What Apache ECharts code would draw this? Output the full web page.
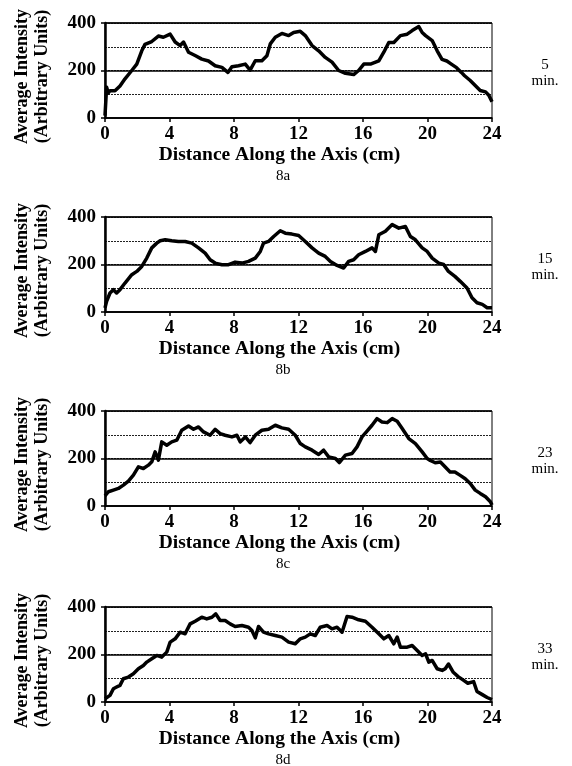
<!DOCTYPE html>
<html>
<head>
<meta charset="utf-8">
<script src="https://cdn.jsdelivr.net/npm/echarts@6/dist/echarts.min.js"></script>
<style>
html,body{margin:0;padding:0;background:#fff;}
#main{width:572px;height:766px;}
</style>
</head>
<body>
<div id="main"></div>
<script>
// 8a - 5 min
var distA = [0, 0.1, 0.2, 0.31, 0.62, 0.93, 1.24, 1.66, 1.97, 2.28, 2.48, 2.9, 3.31, 3.62, 4.04, 4.35, 4.66, 4.87, 5.18, 5.59, 6.0, 6.42, 6.83, 7.25, 7.62, 7.87, 8.28, 8.7, 9.0, 9.32, 9.73, 10.04, 10.25, 10.56, 10.97, 11.39, 11.7, 12.11, 12.42, 12.84, 13.25, 13.66, 14.08, 14.49, 14.91, 15.42, 15.73, 16.05, 16.46, 16.98, 17.29, 17.6, 17.91, 18.32, 18.74, 19.05, 19.46, 19.67, 19.88, 20.29, 20.6, 20.9, 21.2, 21.5, 21.8, 22.1, 22.3, 22.65, 22.96, 23.27, 23.6, 23.8, 24.0];
var intA = [10, 130, 105, 115, 115, 135, 165, 200, 227, 283, 310, 322, 345, 340, 353, 320, 305, 320, 277, 263, 248, 240, 220, 213, 192, 216, 220, 227, 202, 241, 241, 262, 312, 340, 356, 347, 360, 365, 347, 305, 283, 255, 235, 200, 188, 183, 200, 227, 227, 241, 277, 318, 318, 347, 353, 368, 385, 360, 347, 326, 283, 247, 240, 226, 212, 192, 178, 158, 137, 116, 110, 96, 68];

// 8b - 15 min
var distB = [0, 0.1, 0.31, 0.52, 0.72, 0.93, 1.24, 1.66, 1.97, 2.28, 2.59, 2.9, 3.21, 3.42, 3.73, 4.14, 4.55, 4.97, 5.38, 5.8, 6.21, 6.52, 6.83, 7.25, 7.66, 8.07, 8.49, 8.9, 9.32, 9.63, 9.83, 10.14, 10.46, 10.87, 11.18, 11.59, 12.01, 12.42, 12.84, 13.25, 13.66, 13.98, 14.39, 14.8, 15.11, 15.42, 15.73, 16.15, 16.56, 16.77, 16.98, 17.39, 17.81, 18.22, 18.63, 18.94, 19.25, 19.67, 19.98, 20.29, 20.7, 21.0, 21.3, 21.7, 22.03, 22.45, 22.76, 23.07, 23.4, 23.7, 24.0];
var intB = [17, 45, 80, 94, 80, 94, 122, 157, 171, 192, 227, 270, 290, 300, 304, 300, 297, 297, 290, 270, 248, 220, 206, 199, 199, 210, 206, 213, 227, 255, 290, 297, 318, 342, 332, 328, 322, 297, 270, 248, 234, 213, 196, 185, 213, 220, 241, 255, 270, 255, 325, 340, 368, 353, 360, 318, 304, 270, 255, 227, 206, 200, 171, 150, 129, 101, 60, 39, 32, 18, 18];

// 8c - 23 min
var distC = [0, 0.21, 0.52, 0.83, 1.14, 1.45, 1.76, 2.07, 2.38, 2.69, 2.9, 3.11, 3.31, 3.52, 3.83, 4.14, 4.45, 4.76, 5.18, 5.49, 5.8, 6.11, 6.52, 6.83, 7.14, 7.45, 7.87, 8.18, 8.39, 8.7, 9.0, 9.32, 9.73, 10.14, 10.56, 10.97, 11.39, 11.8, 12.11, 12.42, 12.84, 13.25, 13.56, 13.87, 14.29, 14.53, 14.91, 15.32, 15.63, 15.94, 16.25, 16.56, 16.87, 17.18, 17.5, 17.81, 18.12, 18.43, 18.84, 19.25, 19.67, 19.98, 20.17, 20.48, 20.8, 21.1, 21.4, 21.7, 22.03, 22.34, 22.65, 22.96, 23.27, 23.6, 23.9, 24.0];
var intC = [43, 60, 67, 74, 88, 105, 130, 165, 158, 172, 186, 228, 193, 270, 256, 270, 277, 319, 337, 323, 333, 312, 298, 323, 305, 298, 291, 298, 270, 291, 267, 298, 319, 323, 340, 329, 323, 298, 263, 249, 235, 217, 235, 207, 200, 183, 214, 221, 249, 291, 315, 340, 368, 354, 351, 368, 357, 326, 284, 263, 228, 200, 192, 182, 185, 164, 143, 143, 129, 115, 95, 67, 53, 39, 18, 4];

// 8d - 33 min
var distD = [0, 0.31, 0.52, 0.72, 0.93, 1.14, 1.45, 1.76, 2.07, 2.38, 2.59, 2.9, 3.21, 3.52, 3.83, 4.04, 4.35, 4.66, 4.97, 5.28, 5.59, 6.0, 6.31, 6.63, 6.87, 7.14, 7.45, 7.76, 8.07, 8.49, 8.9, 9.11, 9.32, 9.52, 9.83, 10.14, 10.56, 10.97, 11.39, 11.8, 12.11, 12.42, 12.73, 13.04, 13.35, 13.77, 14.08, 14.39, 14.7, 15.01, 15.32, 15.73, 16.15, 16.56, 16.98, 17.29, 17.6, 17.91, 18.12, 18.32, 18.74, 19.05, 19.36, 19.67, 19.88, 20.08, 20.29, 20.6, 20.91, 21.1, 21.3, 21.6, 21.9, 22.2, 22.5, 22.86, 23.07, 23.4, 23.7, 24.0];
var intD = [14, 28, 56, 63, 70, 98, 105, 119, 140, 154, 168, 182, 196, 189, 210, 252, 266, 294, 287, 329, 340, 357, 350, 357, 371, 343, 343, 329, 318, 322, 315, 301, 270, 318, 294, 287, 280, 273, 252, 245, 266, 273, 287, 280, 315, 322, 308, 315, 294, 360, 357, 346, 340, 315, 287, 266, 280, 245, 273, 231, 231, 238, 217, 196, 203, 168, 175, 140, 133, 140, 160, 125, 107, 93, 79, 86, 44, 31, 19, 10];

var xTicks = [0, 4, 8, 12, 16, 20, 24];
var yTicks = [0, 200, 400];
var panelTags = ['8a', '8b', '8c', '8d'];
var panelTimes = ['5', '15', '23', '33'];
var yTitle = 'Average Intensity\n(Arbitrary Units)';
var xTitle = 'Distance Along the Axis (cm)';

var dists = [distA, distB, distC, distD];
var ints = [intA, intB, intC, intD];

var tops = [23, 217, 411, 607];
var plotH = 95;
var serif = 'Liberation Serif';

var grids = [], xAxes = [], yAxes = [], series = [], graphics = [];

for (var p = 0; p < 4; p++) {
	grids.push({
		left: 105, width: 387, top: tops[p], height: plotH,
		show: true, borderColor: '#000', borderWidth: 1
	});
	xAxes.push({
		type: 'value', gridIndex: p, min: xTicks[0], max: xTicks[xTicks.length - 1], interval: 4,
		name: xTitle, nameLocation: 'middle', nameGap: 26,
		nameTextStyle: {fontFamily: serif, fontWeight: 'bold', fontSize: 19.5, color: '#000', padding: [0, 38, 0, 0]},
		axisLine: {show: true, lineStyle: {color: '#000', width: 1.5}},
		axisTick: {show: true, length: 4, lineStyle: {color: '#000', width: 1.5}},
		axisLabel: {fontFamily: serif, fontWeight: 'bold', fontSize: 19, color: '#000', margin: 7},
		splitLine: {show: false}
	});
	// 0/200/400 solid lines with labels
	yAxes.push({
		type: 'value', gridIndex: p, min: 0, max: yTicks[yTicks.length - 1], interval: 200,
		axisLine: {show: true, lineStyle: {color: '#000', width: 2.5}},
		axisTick: {show: true, length: 4, lineStyle: {color: '#000', width: 1.5}},
		axisLabel: {fontFamily: serif, fontWeight: 'bold', fontSize: 19, color: '#000', margin: 9},
		splitLine: {show: true, lineStyle: {color: '#000', width: 1.5, type: 'solid'}},
		z: 3
	});
	// dotted 100/300 lines
	yAxes.push({
		type: 'value', gridIndex: p, min: 0, max: 400, interval: 100,
		axisLine: {show: false}, axisTick: {show: false}, axisLabel: {show: false},
		splitLine: {show: true, lineStyle: {color: '#222', width: 1, type: [2, 1]}},
		z: 1
	});
	series.push({
		type: 'line', xAxisIndex: p, yAxisIndex: p * 2,
		data: dists[p].map(function (d, i) { return [d, ints[p][i]]; }),
		showSymbol: false, symbol: 'none', smooth: false,
		lineStyle: {color: '#000', width: 3.5, join: 'round'},
		z: 5
	});
	//纵轴标题
	graphics.push({
		type: 'text', x: 32, y: tops[p] + plotH / 2 + 6, rotation: Math.PI / 2,
		style: {text: yTitle, fontFamily: serif, fontWeight: 'bold', fontSize: 18, fill: '#000',
			align: 'center', verticalAlign: 'middle', lineHeight: 20}
	});
	graphics.push({
		type: 'text', x: 283, y: tops[p] + plotH + 58,
		style: {text: panelTags[p], fontFamily: serif, fontSize: 15, fill: '#000',
			align: 'center', verticalAlign: 'middle'}
	});
	graphics.push({
		type: 'text', x: 545, y: tops[p] + plotH / 2 + 3,
		style: {text: panelTimes[p] + '\nmin.', fontFamily: serif, fontSize: 15, fill: '#000',
			align: 'center', verticalAlign: 'middle', lineHeight: 16}
	});
}

var myChart = echarts.init(document.getElementById('main'));
myChart.setOption({
	animation: false,
	grid: grids,
	xAxis: xAxes,
	yAxis: yAxes,
	series: series,
	graphic: graphics
});
</script>
</body>
</html>
